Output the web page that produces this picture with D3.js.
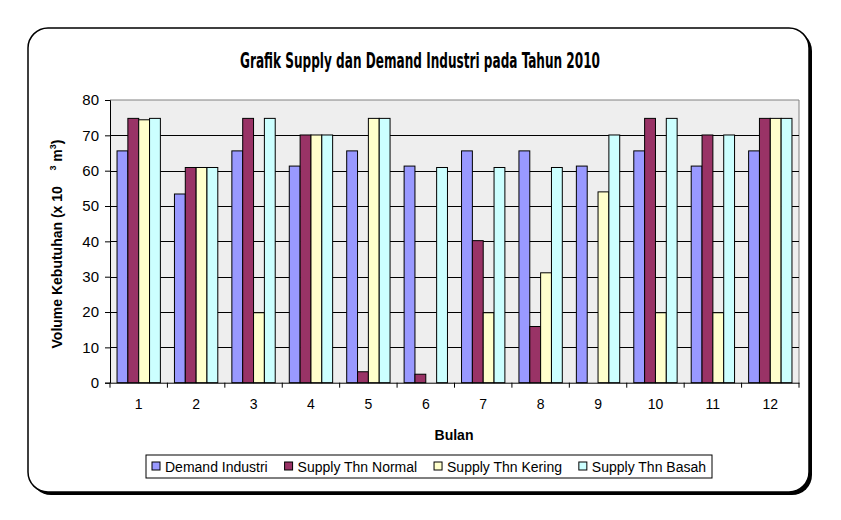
<!DOCTYPE html>
<html><head><meta charset="utf-8">
<script src="https://cdn.jsdelivr.net/npm/d3@7/dist/d3.min.js"></script>
<style>body{margin:0;background:#fff}svg{display:block}</style>
</head><body>
<svg id="c" width="841" height="520"></svg>
<script>
const months = ["1","2","3","4","5","6","7","8","9","10","11","12"];
const seriesNames = ["Demand Industri","Supply Thn Normal","Supply Thn Kering","Supply Thn Basah"];
const demandIndustri = [65.6,53.4,65.6,61.3,65.6,61.3,65.6,65.6,61.3,65.6,61.3,65.6];
const supplyNormal   = [74.8,60.9,74.8,70.1,3.1,2.4,40.2,15.9,0,74.8,70.1,74.8];
const supplyKering   = [74.4,60.9,19.8,70.1,74.8,0,19.8,31.1,54.0,19.8,19.8,74.8];
const supplyBasah    = [74.8,60.9,74.8,70.1,74.8,60.9,60.9,60.9,70.1,74.8,70.1,74.8];
const yTicks = [0,10,20,30,40,50,60,70,80];
const colors = ["#9999FF","#993366","#FFFFCC","#CCFFFF"];
const FF = "'Liberation Sans',Arial,sans-serif";

const svg = d3.select("#c");
svg.append("rect").attr("x",31).attr("y",31).attr("width",781).attr("height",464).attr("rx",20).attr("fill","#000");
svg.append("rect").attr("x",28).attr("y",28).attr("width",781).attr("height",464).attr("rx",20).attr("fill","#fff").attr("stroke","#000").attr("stroke-width",1.5);

svg.append("text").attr("x",420).attr("y",68).attr("text-anchor","middle")
  .attr("font-family","'Liberation Sans Narrow','DejaVu Sans Condensed',sans-serif").attr("font-weight","bold")
  .attr("font-size",22).attr("textLength",360).attr("lengthAdjust","spacingAndGlyphs")
  .text("Grafik Supply dan Demand Industri pada Tahun 2010");

const L=110,R=799,T=100,B=382.7;
const x0 = d3.scaleBand().domain(months).range([L,R]).paddingInner(0.245).paddingOuter(0.1225);
const x1 = d3.scaleBand().domain(d3.range(4)).range([0,x0.bandwidth()]);
const y = d3.scaleLinear().domain([0,80]).range([B,T]);

svg.append("rect").attr("x",L).attr("y",T).attr("width",R-L).attr("height",B-T).attr("fill","#eeeeee");
svg.append("line").attr("x1",L).attr("x2",R).attr("y1",T).attr("y2",T).attr("stroke","#808080");
svg.append("line").attr("x1",R).attr("x2",R).attr("y1",T).attr("y2",B).attr("stroke","#808080");
svg.append("g").selectAll("line").data(yTicks.filter(d=>d>0&&d<80)).join("line")
  .attr("x1",L).attr("x2",R).attr("y1",d=>Math.round(y(d))+0.5).attr("y2",d=>Math.round(y(d))+0.5).attr("stroke","#000");

const data = [demandIndustri,supplyNormal,supplyKering,supplyBasah];
const g = svg.append("g");
months.forEach((m,i)=>{
  data.forEach((s,j)=>{
    if(s[i]<=0) return;
    g.append("rect").attr("x",x0(m)+x1(j)).attr("y",y(s[i])).attr("width",x1.bandwidth()).attr("height",B-y(s[i]))
      .attr("fill",colors[j]).attr("stroke","#000").attr("stroke-width",1);
  });
});

const ya = svg.append("g").attr("transform",`translate(${L},0)`)
  .call(d3.axisLeft(y).tickValues(yTicks).tickSize(5).tickPadding(6));
ya.select(".domain").attr("stroke","#000");
ya.selectAll("text").attr("font-family",FF).attr("font-size",15).attr("fill","#000");

const xa = svg.append("g").attr("transform",`translate(0,${B})`)
  .call(d3.axisBottom(x0).tickSize(0).tickPadding(16));
xa.select(".domain").attr("stroke","#000");
xa.selectAll("text").attr("font-family",FF).attr("font-size",14).attr("fill","#000");
const step = x0.step();
svg.append("g").selectAll("line").data(d3.range(13)).join("line")
  .attr("x1",d=>L+d*step).attr("x2",d=>L+d*step).attr("y1",B).attr("y2",B+5).attr("stroke","#000");

svg.append("text").attr("x",454).attr("y",440).attr("text-anchor","middle")
  .attr("font-family",FF).attr("font-weight","bold").attr("font-size",14).text("Bulan");

const yl = svg.append("text").attr("transform","translate(62,244) rotate(-90)").attr("text-anchor","middle")
  .attr("font-family",FF).attr("font-weight","bold").attr("font-size",14);
yl.append("tspan").text("Volume Kebutuhan (x 10\u00a0\u00a0\u00a0\u00a0");
yl.append("tspan").attr("font-size",9).attr("dy",-6).text("3");
yl.append("tspan").attr("dy",6).text(" m");
yl.append("tspan").attr("font-size",9).attr("dy",-6).text("3");
yl.append("tspan").attr("dy",6).text(")");

// legend: sequential layout fitting the box
const lg = svg.append("g");
const boxL = 146, boxR = 712;
lg.append("rect").attr("x",boxL).attr("y",455).attr("width",boxR-boxL).attr("height",23).attr("fill","#fff").attr("stroke","#000");
const texts = seriesNames.map(n=>lg.append("text").attr("y",471.5).attr("font-family",FF).attr("font-size",14).text(n));
const widths = texts.map(t=>t.node().getComputedTextLength());
const sq = 8, gapIn = 5, pad = 6;
const free = (boxR-boxL-2*pad) - d3.sum(widths) - 4*(sq+gapIn);
const gapOut = Math.max(2, free/3);
let cx = boxL+pad;
seriesNames.forEach((n,j)=>{
  lg.append("rect").attr("x",cx).attr("y",462).attr("width",sq).attr("height",sq).attr("fill",colors[j]).attr("stroke","#000");
  texts[j].attr("x",cx+sq+gapIn);
  cx += sq+gapIn+widths[j]+gapOut;
});
</script>
</body></html>
